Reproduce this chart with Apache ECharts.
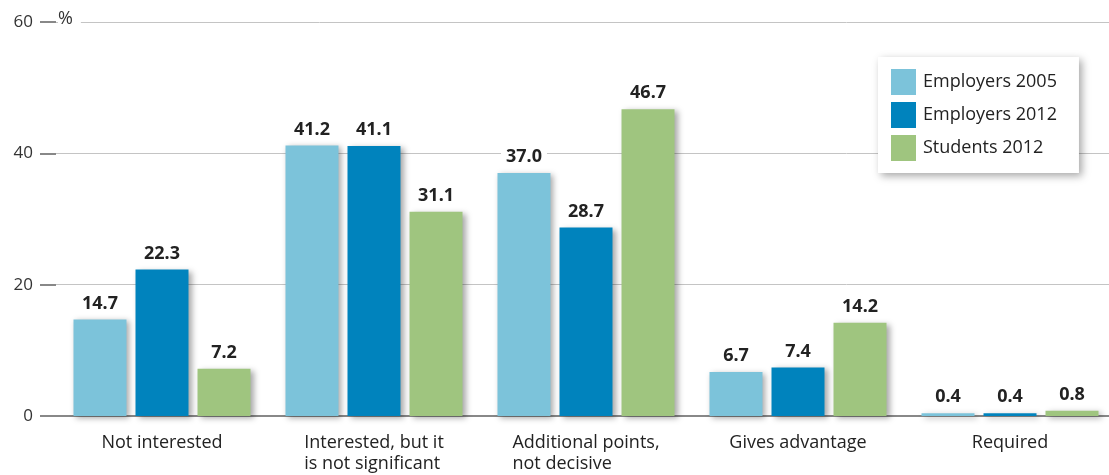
<!DOCTYPE html>
<html>
<head>
<meta charset="utf-8">
<script src="https://cdn.jsdelivr.net/npm/echarts@6/dist/echarts.min.js"></script>
<style>html,body{margin:0;padding:0;background:#fff;}#c{width:1109px;height:475px;}</style>
</head>
<body>
<div id="c"></div>
<script>
var categories = ['Not interested', 'Interested, but it\nis not significant', 'Additional points,\nnot decisive', 'Gives advantage', 'Required'];
var seriesNames = ['Employers 2005', 'Employers 2012', 'Students 2012'];
var employers2005 = [14.7, 41.2, 37.0, 6.7, 0.4];
var employers2012 = [22.3, 41.1, 28.7, 7.4, 0.4];
var students2012 = [7.2, 31.1, 46.7, 14.2, 0.8];
var colors = ['#7cc3da', '#0083bd', '#9fc57f'];
var seriesData = [employers2005, employers2012, students2012];

var font = 'Open Sans';
var chart = echarts.init(document.getElementById('c'));
var series = seriesData.map(function (d, i) {
  return {
    name: seriesNames[i],
    type: 'bar',
    data: d,
    barWidth: 53,
    barGap: '17%',
    itemStyle: {
      color: colors[i],
      shadowBlur: 6,
      shadowColor: 'rgba(0,0,0,0.35)',
      shadowOffsetX: 3,
      shadowOffsetY: 2
    },
    label: {
      show: true,
      position: 'top',
      distance: 7,
      formatter: function (p) { return p.value.toFixed(1); },
      fontFamily: 'Noto Sans',
      fontSize: 18,
      fontWeight: 'bold',
      color: '#222',
      backgroundColor: '#fff',
      padding: [0, 5]
    }
  };
});

chart.setOption({
  animation: false,
  textStyle: { fontFamily: font },
  grid: { left: 56, width: 1060, top: 22, bottom: 59, containLabel: false, outerBoundsMode: 'none' },
  legend: {
    orient: 'vertical',
    left: 878,
    top: 57,
    itemWidth: 25,
    itemHeight: 26,
    itemGap: 7,
    padding: [12, 22, 12, 13],
    backgroundColor: '#fff',
    shadowBlur: 8,
    shadowColor: 'rgba(0,0,0,0.35)',
    shadowOffsetX: 3,
    shadowOffsetY: 3,
    icon: 'rect',
    textStyle: { fontFamily: font, fontSize: 18, color: '#222', padding: [0, 0, 0, 2] },
    data: seriesNames
  },
  xAxis: {
    type: 'category',
    data: categories,
    axisLine: { show: true, lineStyle: { color: '#888', width: 2 } },
    axisTick: { show: false },
    axisLabel: {
      interval: 0,
      margin: 16,
      formatter: function (v) {
        return v.split('\n').map(function (l) { return '{a|' + l + '}'; }).join('\n');
      },
      rich: { a: { fontFamily: font, fontSize: 18, color: '#222', lineHeight: 21, align: 'left' } }
    }
  },
  yAxis: {
    type: 'value',
    min: 0,
    max: 60,
    interval: 20,
    axisLine: { show: false },
    axisTick: { show: true, length: 16, lineStyle: { color: '#888', width: 2 } },
    axisLabel: { fontFamily: font, fontSize: 17, color: '#333', margin: 23 },
    splitLine: { lineStyle: { color: '#c4c4c4', width: 1 } }
  },
  graphic: [{
    type: 'text',
    left: 58,
    top: 10,
    z: 100,
    style: { text: '%', fontFamily: font, fontSize: 18, fill: '#333', backgroundColor: '#fff', padding: [0, 8, 0, 0] }
  }],
  series: series
});
</script>
</body>
</html>
